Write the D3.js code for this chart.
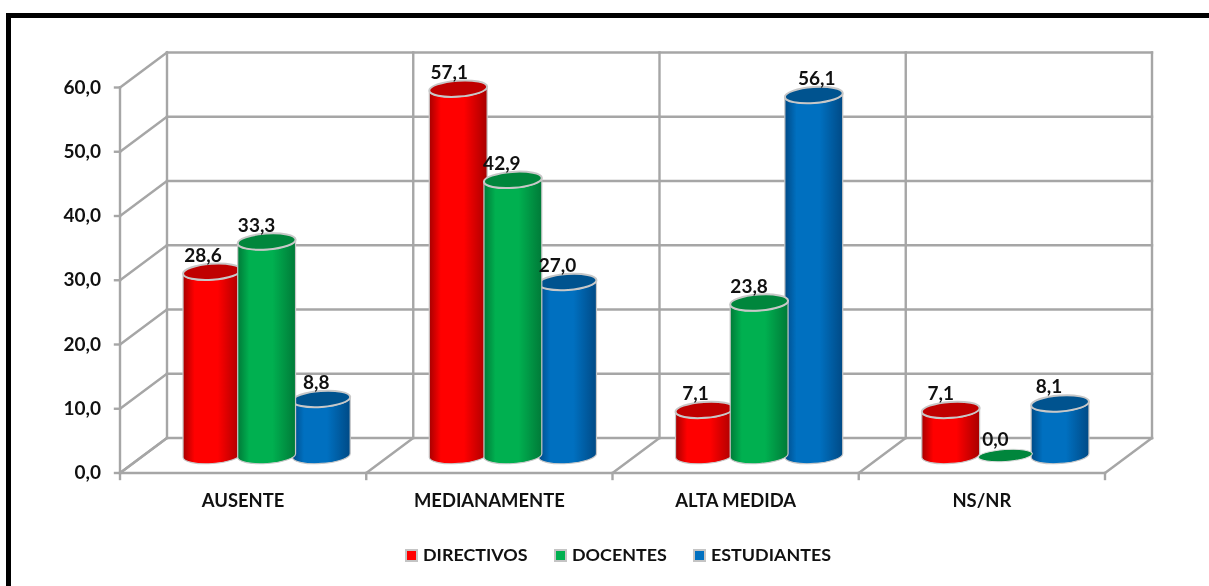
<!DOCTYPE html>
<html><head><meta charset="utf-8">
<script src="https://cdn.jsdelivr.net/npm/d3@7"></script>
<style>html,body{margin:0;padding:0;background:#fff;overflow:hidden}
svg{filter:blur(.35px)}
text{font-family:Lato,"Open Sans",sans-serif;font-weight:700;fill:#111}</style></head>
<body><svg id="c" width="1209" height="586"></svg>
<script>
const categories=["AUSENTE","MEDIANAMENTE","ALTA MEDIDA","NS/NR"];
const seriesNames=["DIRECTIVOS","DOCENTES","ESTUDIANTES"];
const directivos=[28.6,57.1,7.1,7.1];
const docentes=[33.3,42.9,23.8,0.0];
const estudiantes=[8.8,27.0,56.1,8.1];
const yTicks=[0,10,20,30,40,50,60];
const seriesValues=[directivos,docentes,estudiantes];

const svg=d3.select("#c");
const fmt=v=>v.toFixed(1).replace(".",",");
const depthX=47,depthY=-35;
const x=d3.scaleBand().domain(categories).range([120,1105]);
const inner=d3.scaleBand().domain(seriesNames).range([-82,82]);
const y=d3.scaleLinear().domain([0,60]).range([473,87.5]);
const grey="#a6a6a6";

// frame
svg.append("path").attr("d","M8.5,586V15.5H1209").attr("fill","none").attr("stroke","#000").attr("stroke-width",5);

// walls
const g=svg.append("g").attr("stroke",grey).attr("stroke-width",2.4).attr("fill","none").attr("stroke-linecap","square");
yTicks.forEach(t=>{
  g.append("line").attr("x1",x.range()[0]+depthX).attr("x2",x.range()[1]+depthX).attr("y1",y(t)+depthY).attr("y2",y(t)+depthY);
  g.append("line").attr("x1",x.range()[0]).attr("x2",x.range()[0]+depthX).attr("y1",y(t)).attr("y2",y(t)+depthY);
  g.append("line").attr("x1",x.range()[0]-5).attr("x2",x.range()[0]).attr("y1",y(t)).attr("y2",y(t));
});
g.append("line").attr("x1",120).attr("x2",120).attr("y1",y(60)).attr("y2",y(0));
g.append("line").attr("x1",120).attr("x2",1105).attr("y1",y(0)).attr("y2",y(0));
const edges=categories.map(c=>x(c)).concat([x.range()[1]]);
edges.forEach(e=>{
  g.append("line").attr("x1",e+depthX).attr("x2",e+depthX).attr("y1",y(60)+depthY).attr("y2",y(0)+depthY);
  g.append("line").attr("x1",e).attr("x2",e+depthX).attr("y1",y(0)).attr("y2",y(0)+depthY);
  g.append("line").attr("x1",e).attr("x2",e).attr("y1",y(0)).attr("y2",y(0)+6);
});

// axis text
svg.append("g").selectAll("text").data(yTicks).join("text")
  .attr("x",101).attr("y",d=>y(d)+6).attr("text-anchor","end").attr("font-size",19).text(fmt);
svg.append("g").selectAll("text").data(categories).join("text")
  .attr("x",d=>x(d)+x.bandwidth()/2).attr("y",507).attr("text-anchor","middle").attr("font-size",18.4).text(d=>d);

// gradients
const colors=[["#a80000","#ff0000","#a80000","#c00000"],["#007a38","#00b050","#007a38","#00863c"],["#004a86","#0070c0","#004a86","#00538f"]];
const defs=svg.append("defs");
colors.forEach((c,i)=>{
  const lg=defs.append("linearGradient").attr("id","g"+i);
  [[0,c[0]],[.2,c[1]],[.6,c[1]],[1,c[2]]].forEach(s=>lg.append("stop").attr("offset",s[0]).attr("stop-color",s[1]));
});

// cylinders
const rx=29,ry=8,tilt=4*Math.PI/180,cs=Math.cos(tilt)*rx,sn=Math.sin(tilt)*rx;
const baseDepth=.5;
const order=[0,2,1];
const marks=svg.append("g");
const labelDx=[[-8,-9,-4],[-8,-10,-9],[-8,-9,4],[-9,-9,-10]];
const centre=(c,s)=>x(c)+x.bandwidth()/2+inner(s)+inner.bandwidth()/2+depthX*baseDepth;
categories.forEach((c,ci)=>{
  order.forEach(si=>{
    const v=seriesValues[si][ci];
    const cx=centre(c,seriesNames[si]);
    const by=y(0)+depthY*baseDepth, ty=y(v)+depthY*baseDepth;
    const arc=`A${rx},${ry} -4 0 `;
    if(v>0){
      marks.append("path").attr("fill","url(#g"+si+")").attr("stroke","#c8c8c8").attr("stroke-width",1.2)
       .attr("d",`M${cx-cs},${ty+sn}L${cx-cs},${by+sn}${arc}0 ${cx+cs},${by-sn}L${cx+cs},${ty-sn}${arc}1 ${cx-cs},${ty+sn}Z`);
    }
    marks.append("ellipse").attr("cx",cx).attr("cy",ty).attr("rx",v>0?rx:27).attr("ry",v>0?ry:6)
      .attr("transform",`rotate(-4 ${cx} ${ty})`)
      .attr("fill",colors[si][3]).attr("stroke",v>0?"#c8c8c8":"#dcdcdc").attr("stroke-width",v>0?2:1);
  });
});
// value labels
categories.forEach((c,ci)=>{
  seriesNames.forEach((s,si)=>{
    const v=seriesValues[si][ci];
    svg.append("text").attr("x",centre(c,s)-1+labelDx[ci][si]).attr("y",y(v)+depthY*baseDepth-10)
      .attr("text-anchor","middle").attr("font-size",19).text(fmt(v));
  });
});

// legend
const legendX=[406,555,694];
seriesNames.forEach((s,i)=>{
  svg.append("rect").attr("x",legendX[i]-1).attr("y",549).attr("width",13).attr("height",13).attr("fill","#c4c4c4");
  svg.append("rect").attr("x",legendX[i]+1).attr("y",551).attr("width",9).attr("height",9).attr("fill",colors[i][1]);
  svg.append("text").attr("x",legendX[i]+17).attr("y",561).attr("font-size",17.9).text(s);
});
</script></body></html>
